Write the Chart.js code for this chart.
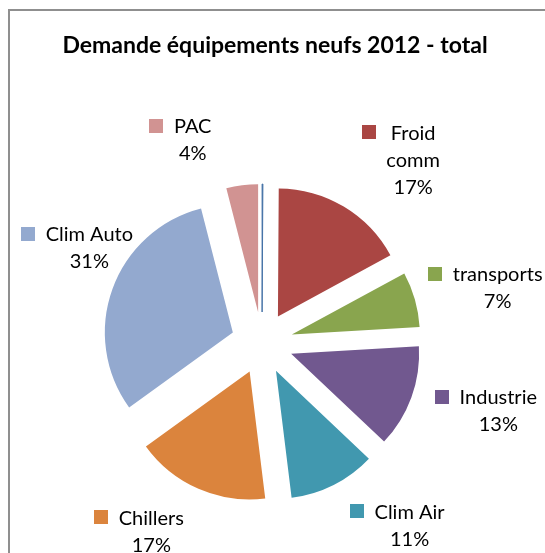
<!DOCTYPE html>
<html>
<head>
<meta charset="utf-8">
<script src="https://cdn.jsdelivr.net/npm/chart.js@4.4.0/dist/chart.umd.min.js"></script>
<style>
    html, body { margin: 0; padding: 0; background: #fff; overflow: hidden; }
    #wrap { position: relative; width: 545px; height: 553px; overflow: hidden; }
    #frame { position: absolute; left: 8px; top: 9px; width: 700px; height: 700px; border: 2px solid #8f8f8f; }
    #title { position: absolute; left: 0; width: 550px; top: 30px; text-align: center;
             font: bold 23px Lato, sans-serif; color: #000; white-space: nowrap; }
    canvas { position: absolute; left: 0; top: 0; }
</style>
</head>
<body>
<div id="wrap">
    <div id="frame"></div>
    <canvas id="pieChart" width="545" height="553"></canvas>
    <div id="title">Demande équipements neufs 2012 - total</div>
</div>
<script>
// Data (percent of total)
const categories = ['', 'Froid comm', 'transports', 'Industrie', 'Clim Air', 'Chillers', 'Clim Auto', 'PAC'];
const shares = [0.1, 17, 7, 13, 11, 17, 31, 4];
const sliceColors = ['#4572A7', '#AA4643', '#89A54E', '#71588F', '#4198AF', '#DB843D', '#93A9CF', '#D19392'];

// Label placement (degrees nudged from slice middle, distance from pie centre)
const labelShift = [0, 8.7, 2.8, -3.9, -12.1, 6.8, 8.9, -11.7];
const labelDist = [0, 237, 242, 246, 235, 219, 197, 214];
const wrapped = { 'Froid comm': ['Froid', 'comm'] };
const explode = 31;
const labelFont = '20px Lato, sans-serif';
const lineGap = 27;

// Pie slices pulled out from the centre, same radius for all
class ExplodedArc extends Chart.ArcElement {
    draw(ctx) {
        const mid = (this.startAngle + this.endAngle) / 2;
        ctx.save();
        ctx.translate(Math.cos(mid) * explode, Math.sin(mid) * explode);
        super.draw(ctx);
        ctx.restore();
    }
}
ExplodedArc.id = 'explodedArc';

class ExplodedPie extends Chart.PieController {}
ExplodedPie.id = 'explodedPie';
ExplodedPie.defaults = { dataElementType: 'explodedArc' };

Chart.register(ExplodedArc, ExplodedPie);

const sliceLabels = {
    id: 'sliceLabels',
    afterDatasetsDraw(chart) {
        const ctx = chart.ctx;
        const meta = chart.getDatasetMeta(0);
        const total = shares.reduce((a, b) => a + b, 0);
        ctx.save();
        ctx.font = labelFont;
        ctx.textAlign = 'center';
        ctx.textBaseline = 'middle';
        meta.data.forEach((arc, i) => {
            if (shares[i] < 1) return;
            const a = (arc.startAngle + arc.endAngle) / 2 + labelShift[i] * Math.PI / 180;
            const x = arc.x + Math.cos(a) * labelDist[i];
            const y = arc.y + Math.sin(a) * labelDist[i];
            const lines = (wrapped[categories[i]] || [categories[i]]).concat(Math.round(shares[i] / total * 100) + '%');
            const top = y - (lines.length - 1) * lineGap / 2;
            ctx.fillStyle = '#000';
            lines.forEach((t, k) => ctx.fillText(t, x, top + k * lineGap));
            const w = Math.max(...lines.map(t => ctx.measureText(t).width));
            ctx.fillStyle = sliceColors[i];
            ctx.fillRect(Math.round(x - w / 2 - 10.5 - 14), Math.round(top - 8), 14, 14);
        });
        ctx.restore();
    }
};

const ctx = document.getElementById('pieChart').getContext('2d');
new Chart(ctx, {
    type: 'explodedPie',
    data: {
        labels: categories,
        datasets: [{
            data: shares,
            backgroundColor: sliceColors,
            borderColor: sliceColors,
            borderWidth: shares.map(v => v < 1 ? 1 : 0),
            radius: 128
        }]
    },
    options: {
        responsive: false,
        animation: false,
        layout: { padding: { left: 0, right: 21, top: 133, bottom: 0 } },
        plugins: {
            legend: { display: false },
            tooltip: { enabled: false },
            title: { display: false }
        }
    },
    plugins: [sliceLabels]
});
</script>
</body>
</html>
